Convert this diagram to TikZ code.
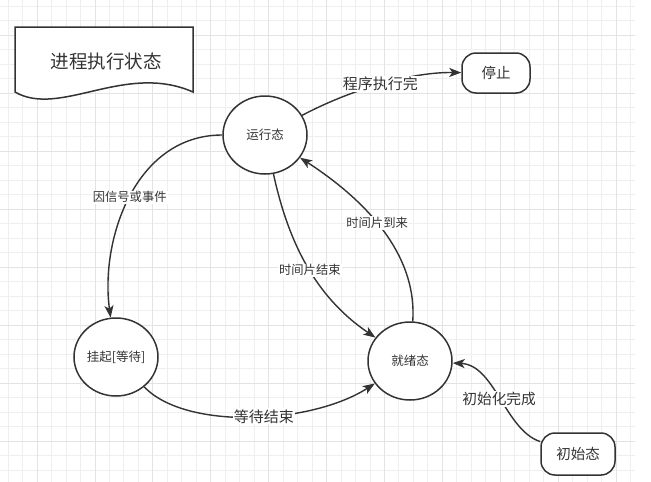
\documentclass[tikz,border=0pt]{standalone}
\usepackage{fontspec}
\setmainfont{Noto Sans CJK SC}
\usetikzlibrary{arrows.meta,shapes.geometric}
\definecolor{ink}{HTML}{333333}
\definecolor{gridminor}{HTML}{EFEFEF}
\definecolor{gridmajor}{HTML}{E3E3E3}
\begin{document}
\begin{tikzpicture}[x=1pt,y=-1pt,
  state/.style={ellipse, draw=ink, line width=1.5pt, fill=white, minimum width=84pt, minimum height=78pt, inner sep=0pt, text=ink, font=\fontsize{12.5}{15}\selectfont},
  term/.style={rectangle, rounded corners=14pt, draw=ink, line width=1.5pt, fill=white, inner sep=0pt, text=ink, font=\fontsize{14.5}{17}\selectfont},
  edge/.style={draw=ink, line width=1.4pt, -{Stealth[length=12pt,width=9pt,inset=3pt]}},
  lab/.style={fill=white, inner sep=1pt, text=ink},
  smalllab/.style={lab, font=\fontsize{12.3}{14}\selectfont},
  biglab/.style={lab, font=\fontsize{15}{18}\selectfont},
  gridline/.style={line width=0.8pt}
]
\useasboundingbox (0,0) rectangle (651,482);
\fill[white] (0,0) rectangle (651,482);
% grid
\foreach \i in {0,...,43} \draw[gridline, gridminor] ({8.05+\i*14.475},0) -- ++(0,482);
\foreach \j in {0,...,32} \draw[gridline, gridminor] (0,{6+\j*14.5}) -- (635,{6+\j*14.5});
\foreach \k in {0,...,10} \draw[gridline, gridmajor] ({37+\k*57.9},0) -- ++(0,482);
\foreach \k in {0,...,7} \draw[gridline, gridmajor] (0,{35+\k*58}) -- (635,{35+\k*58});

% title document shape
\draw[ink, line width=1.5pt, fill=white] (15,27) -- (193,27) -- (193,92)
  .. controls (125,62) and (60,118) .. (15,92) -- cycle;
\node[text=ink, font=\fontsize{18.5}{22}\selectfont] (title) at (106,61) {进程执行状态};

% states
\node[state] (run) at (265,135) {运行态};
\node[state] (hang) at (116,357) {挂起[等待]};
\node[state] (ready) at (410,361) {就绪态};
\node[term, minimum width=68pt, minimum height=40pt] (stop) at (496,73) {停止};
\node[term, minimum width=74pt, minimum height=42pt] (init) at (578,454) {初始态};

% edges
\draw[edge] (run) .. controls (350,90) and (410,72) .. node[biglab] (l1) {程序执行完} (stop);
\draw[edge] (run) .. controls (135,135) and (100,240) .. node[smalllab] (l2) {因信号或事件} (hang);
\draw[edge] (run) .. controls (290,250) and (320,300) .. node[smalllab] (l3) {时间片结束} (ready);
\draw[edge] (ready) .. controls (418,245) and (350,190) .. node[smalllab] (l4) {时间片到来} (run);
\draw[edge] (hang) .. controls (185,430) and (310,425) .. node[biglab, pos=0.55] (l5) {等待结束} (ready);
\draw[edge] (init) .. controls (505,430) and (495,365) .. node[lab, font=\fontsize{14.7}{17}\selectfont] (l6) {初始化完成} (ready);
\end{tikzpicture}
\end{document}
